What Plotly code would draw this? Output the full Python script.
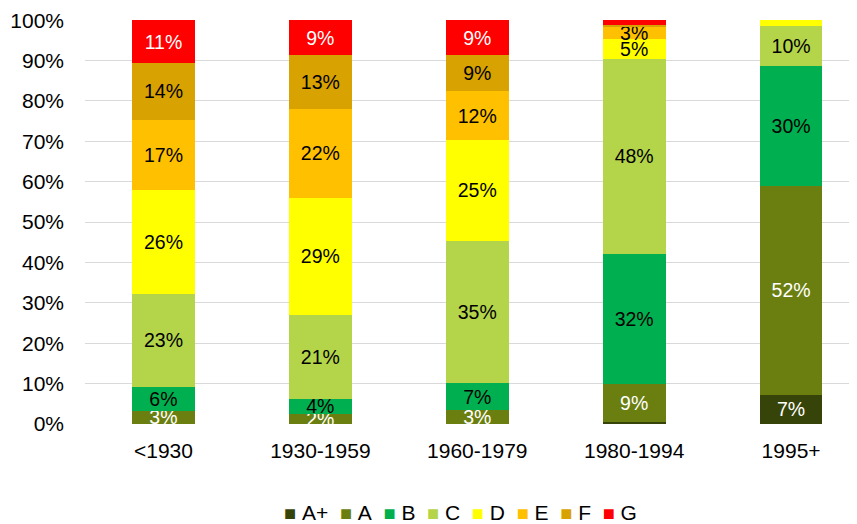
import plotly.graph_objects as go

# DATA
periods = ['<1930', '1930-1959', '1960-1979', '1980-1994', '1995+']
classes = ['A+', 'A', 'B', 'C', 'D', 'E', 'F', 'G']

a_plus = [0.0, 0.0, 0.0, 0.4, 7.2]
a = [3.3, 2.5, 3.4, 9.4, 51.8]
b = [5.9, 3.7, 6.8, 32.4, 29.6]
c = [23.0, 20.8, 35.2, 48.2, 9.9]
d = [25.8, 29.0, 24.9, 4.9, 1.5]
e = [17.3, 22.0, 12.2, 3.2, 0.0]
f = [14.1, 13.4, 8.9, 0.4, 0.0]
g = [10.6, 8.6, 8.6, 1.1, 0.0]

values = [a_plus, a, b, c, d, e, f, g]
colors = ['#374409', '#6B7F10', '#00B050', '#B4D44A', '#FFFF00', '#FFC000', '#D8A200', '#FF0000']
text_colors = ['white', 'white', 'black', 'black', 'black', 'black', 'black', 'white']

FONT = 'Liberation Sans, Arial, sans-serif'

fig = go.Figure()

# STACKED BARS
for name, vals, col, tcol in zip(classes, values, colors, text_colors):
    fig.add_trace(go.Bar(
        x=periods, y=[v / 100 for v in vals], name=name,
        marker=dict(color=col, line=dict(width=0)),
        text=['' if v < 2 else f'{v:.0f}%' for v in vals],
        textposition='inside', insidetextanchor='middle', textangle=0,
        constraintext='none', cliponaxis=False,
        textfont=dict(family=FONT, size=19.5, color=tcol),
        width=0.4, showlegend=False,
    ))

# LEGEND AS ONE LINE OF TEXT (COMPACT LIKE THE EXCEL ORIGINAL)
legend_text = '&nbsp;&nbsp;'.join(
    f'<span style="color:{col};font-size:20px">■</span>&nbsp;{name}' for name, col in zip(classes, colors))
fig.add_annotation(text=legend_text, xref='paper', yref='paper', x=0.486, y=-0.22,
                   xanchor='center', yanchor='middle', showarrow=False,
                   font=dict(family=FONT, size=21, color='black'))

# FORMAT (PAGE ADDS AN 8PX BODY MARGIN, SO MARGINS ARE SHIFTED BY 8)
fig.update_layout(
    barmode='stack', width=857, height=524,
    plot_bgcolor='white', paper_bgcolor='white',
    margin=dict(l=77, r=8, t=12, b=108),
    font=dict(family=FONT, size=21, color='black'),
    showlegend=False,
    xaxis=dict(range=[-0.5, 4.42], showgrid=False, zeroline=False, showline=False,
               ticklabelstandoff=12, automargin=False),
    yaxis=dict(range=[0, 1.0005], tickformat='.0%', dtick=0.1, showgrid=True,
               gridcolor='#D9D9D9', gridwidth=1.3, zeroline=False, showline=False,
               ticklabelstandoff=20, automargin=False),
)

fig.write_html('out.html')
